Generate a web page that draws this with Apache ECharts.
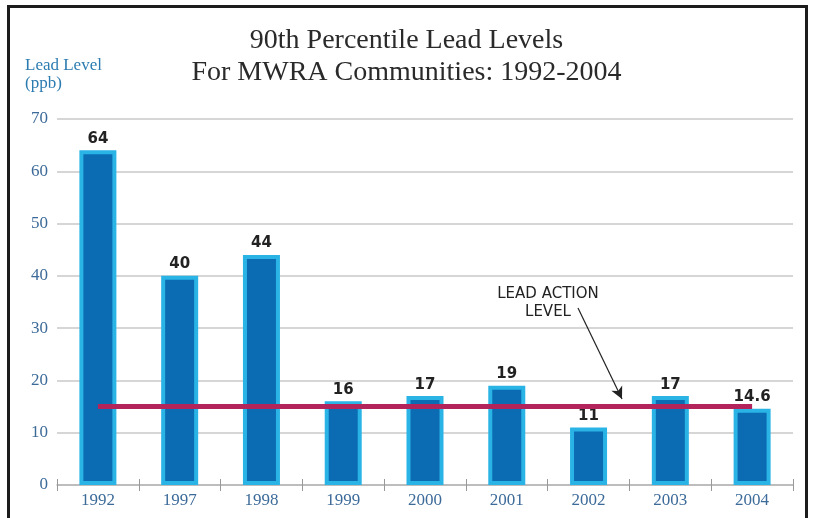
<!DOCTYPE html>
<html>
<head>
<meta charset="utf-8">
<title>90th Percentile Lead Levels</title>
<script src="https://cdn.jsdelivr.net/npm/echarts@6/dist/echarts.min.js"></script>
<style>
  html, body { margin: 0; padding: 0; background: #fff; }
  #chart { width: 813px; height: 518px; }
</style>
</head>
<body>
<div id="chart"></div>
<script>
// data
const years = ['1992', '1997', '1998', '1999', '2000', '2001', '2002', '2003', '2004']
const leadLevels = [64, 40, 44, 16, 17, 19, 11, 17, 14.6]
const actionLevel = 15
const yTicks = [0, 10, 20, 30, 40, 50, 60, 70]

const chart = echarts.init(document.getElementById('chart'))

const axisBlue = '#3d6b99'

const option = {
  backgroundColor: '#fff',
  animation: false,
  title: {
    text: '90th Percentile Lead Levels\nFor MWRA Communities: 1992-2004',
    left: 'center',
    top: 20,
    textStyle: {
      fontFamily: 'Liberation Serif',
      fontWeight: 'normal',
      fontSize: 28,
      lineHeight: 32,
      color: '#2a2a2a'
    }
  },
  grid: {
    left: 57,
    right: 20,
    top: 119,
    bottom: 33
  },
  xAxis: [
    {
      type: 'category',
      data: years,
      axisLine: { lineStyle: { color: '#b5b5b5', width: 1.5 } },
      axisTick: { show: true, length: 6, lineStyle: { color: '#999', width: 1 } },
      axisLabel: {
        margin: 7,
        fontFamily: 'Liberation Serif',
        fontSize: 17,
        color: axisBlue
      }
    },
    {
      // overlapped axis so the ticks cross the base line
      type: 'category',
      data: years,
      position: 'bottom',
      axisLine: { show: false },
      axisTick: { show: true, inside: true, length: 6, lineStyle: { color: '#999', width: 1 } },
      axisLabel: { show: false }
    }
  ],
  yAxis: {
    type: 'value',
    min: yTicks[0],
    max: yTicks[yTicks.length - 1],
    interval: 10,
    axisLine: { show: false },
    axisTick: { show: false },
    axisLabel: {
      margin: 9,
      fontFamily: 'Liberation Serif',
      fontSize: 17,
      color: axisBlue
    },
    splitLine: { lineStyle: { color: '#c9c9c9', width: 1.5 } }
  },
  series: [
    {
      type: 'bar',
      data: leadLevels,
      barWidth: 37,
      itemStyle: {
        color: '#0b6bb3',
        borderColor: '#2ab4e6',
        borderWidth: 4
      },
      label: {
        show: true,
        position: 'top',
        distance: 4,
        fontFamily: 'DejaVu Sans',
        fontWeight: 'bold',
        fontSize: 15,
        color: '#222'
      },
      markLine: {
        silent: true,
        symbol: 'none',
        label: { show: false },
        data: [
          [
            { coord: [years[0], actionLevel], lineStyle: { color: '#b3245b', width: 5, type: 'solid' } },
            { coord: [years[years.length - 1], actionLevel] }
          ],
          [
            { x: 578, y: 308, symbol: 'none', lineStyle: { color: '#222', width: 1.2, type: 'solid' } },
            { x: 622, y: 399, symbol: 'arrow', symbolSize: [9, 12] }
          ]
        ]
      }
    }
  ],
  graphic: [
    {
      type: 'rect',
      silent: true,
      z: 100,
      shape: { x: 8.5, y: 6.5, width: 798, height: 540 },
      style: { fill: 'none', stroke: '#1c1c1c', lineWidth: 3 }
    },
    {
      type: 'text',
      left: 25,
      top: 57,
      style: {
        text: 'Lead Level\n(ppb)',
        font: '17px "Liberation Serif"',
        lineHeight: 18,
        fill: '#2b7bb0'
      }
    },
    {
      type: 'text',
      x: 548,
      y: 285,
      style: {
        text: 'LEAD ACTION\nLEVEL',
        font: '15px "DejaVu Sans"',
        lineHeight: 18,
        align: 'center',
        fill: '#222'
      }
    }
  ]
}

chart.setOption(option)
</script>
</body>
</html>
